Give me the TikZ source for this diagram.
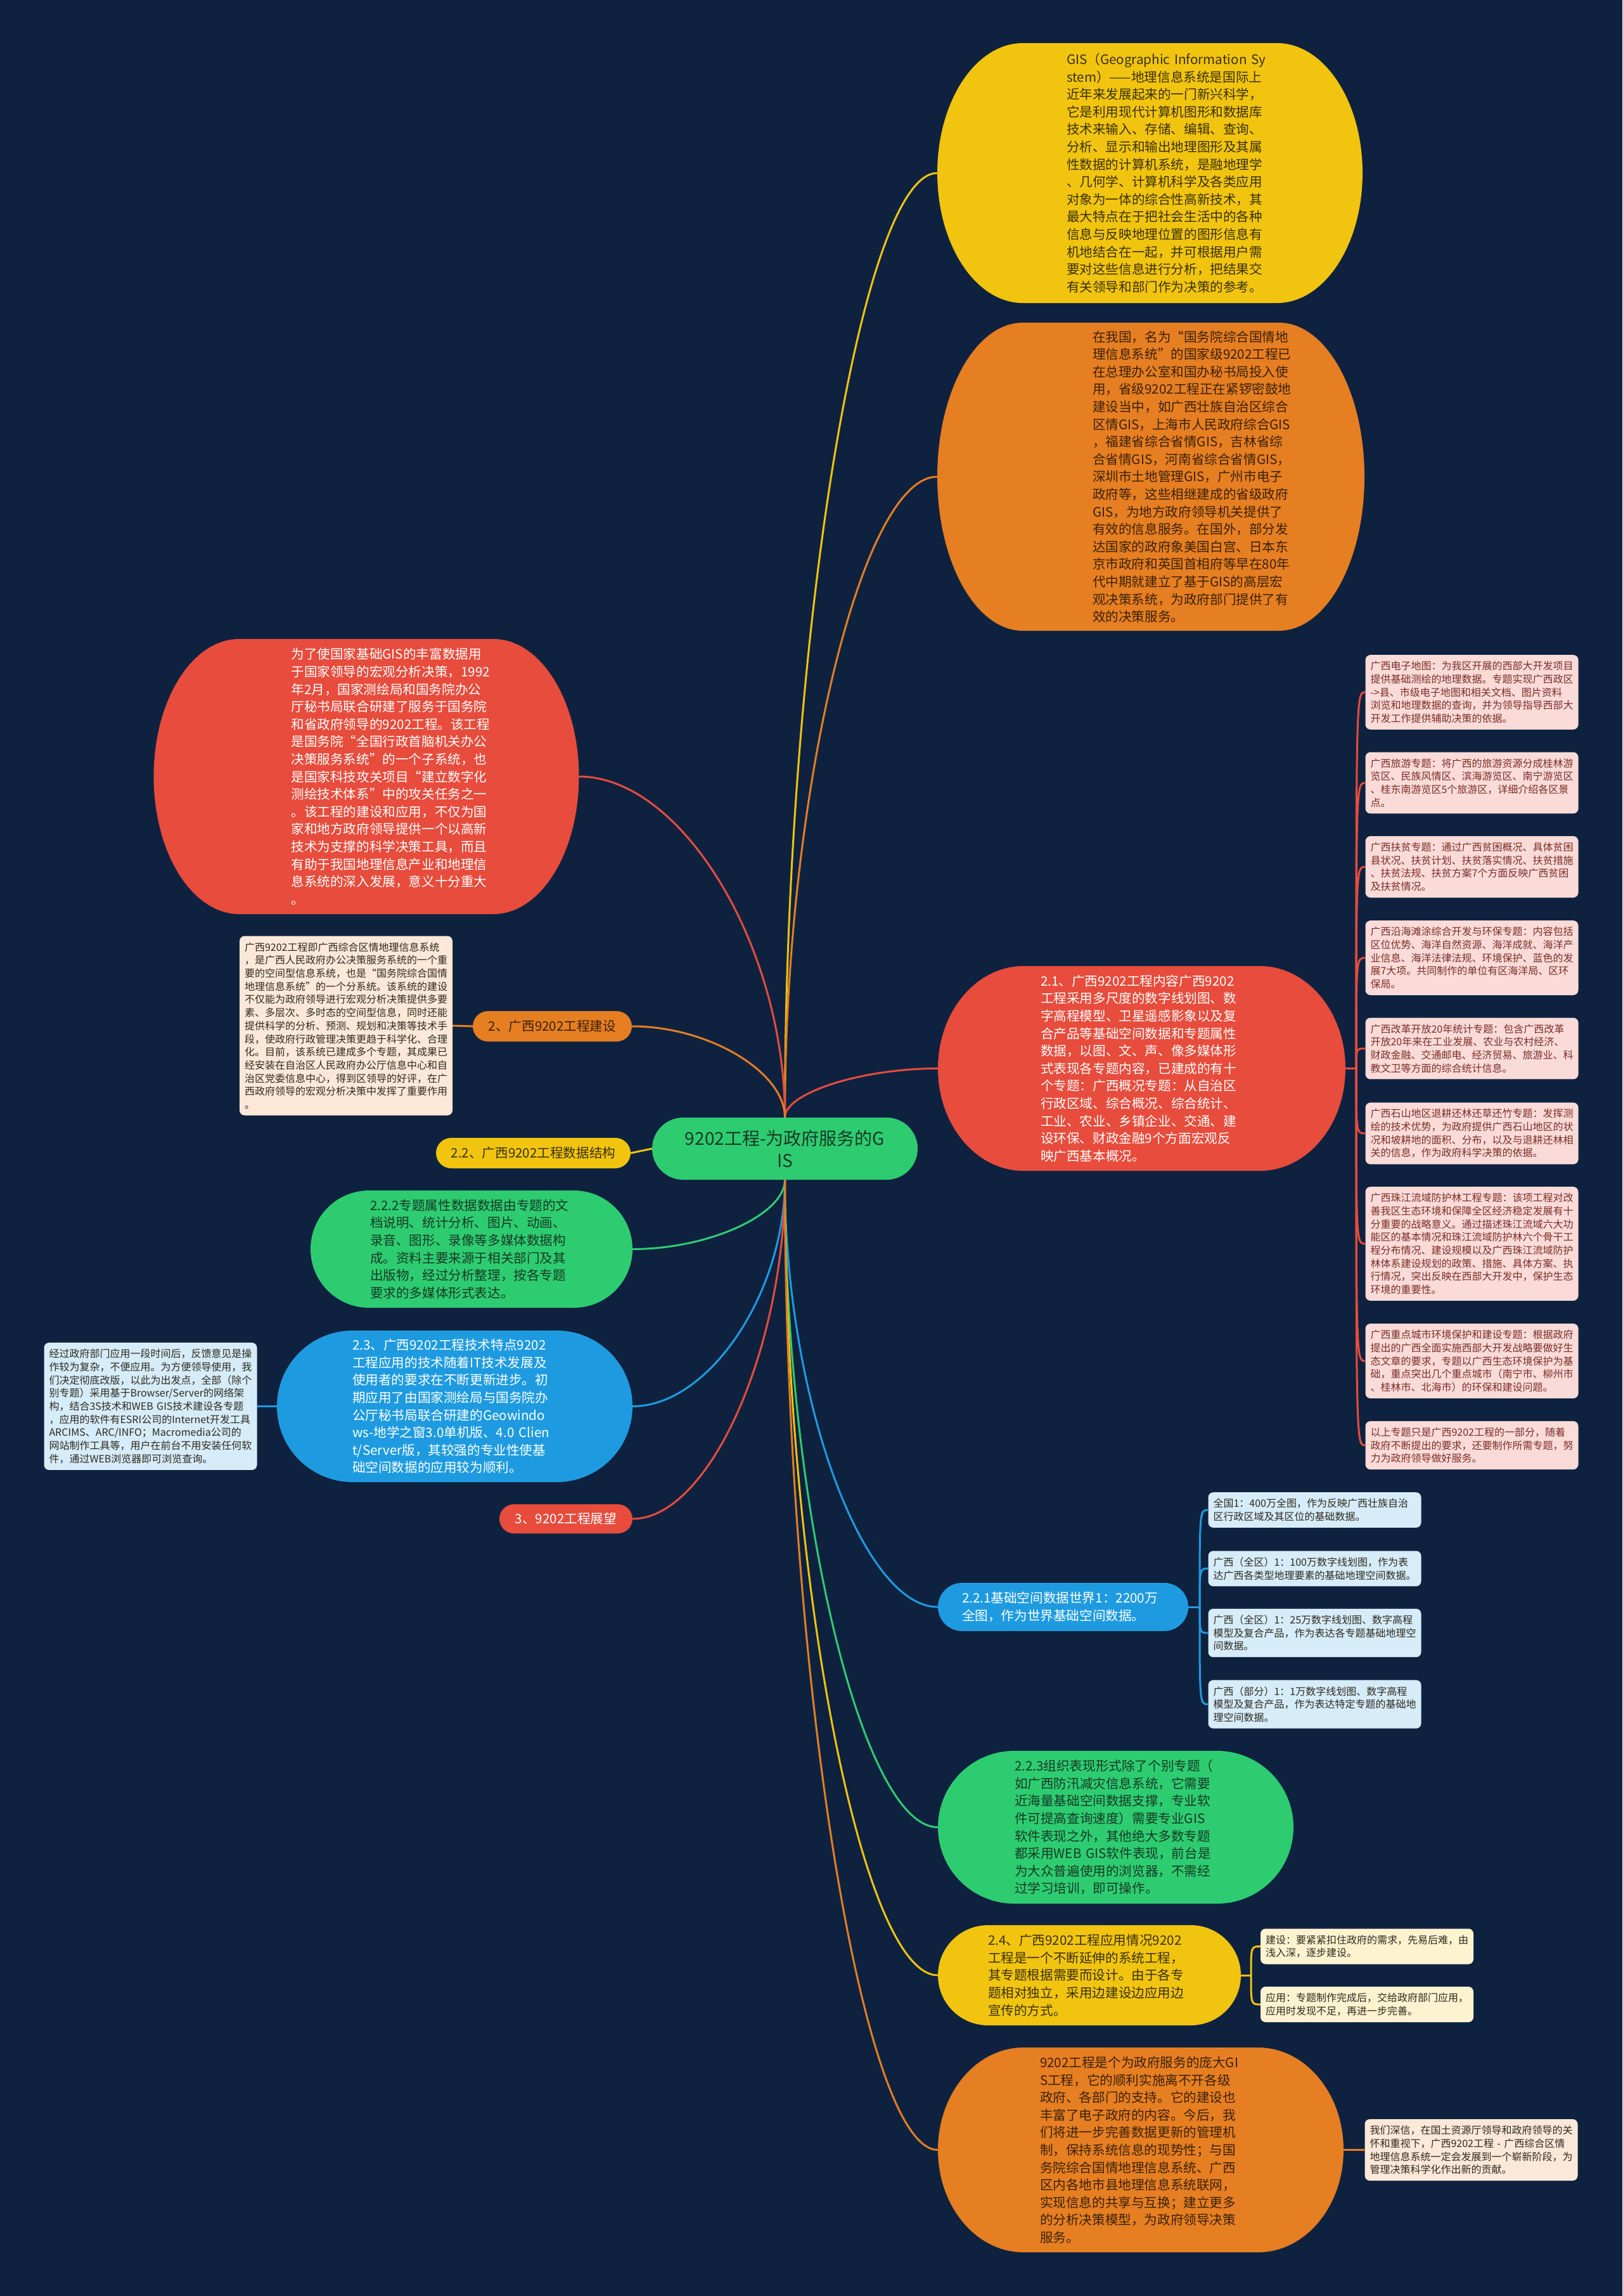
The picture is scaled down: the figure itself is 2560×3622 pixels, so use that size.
\documentclass[tikz,border=0pt]{standalone}
\usepackage{fontspec}
\setmainfont{Noto Sans CJK SC}
\usepackage{tikz}
\usetikzlibrary{calc}
\definecolor{bgnavy}{HTML}{0E2240}
\definecolor{mmyel}{HTML}{F1C40F}
\definecolor{mmora}{HTML}{E67E22}
\definecolor{mmred}{HTML}{E74C3C}
\definecolor{mmgrn}{HTML}{2ECC71}
\definecolor{mmblu}{HTML}{1E9BE0}
\definecolor{pkbox}{HTML}{FADBD8}
\definecolor{pcbox}{HTML}{FCE8D8}
\definecolor{lbbox}{HTML}{D6ECF9}
\definecolor{crbox}{HTML}{FDF3D0}
\definecolor{txdk}{HTML}{2E2A1E}
\definecolor{txyel}{HTML}{3A3100}
\definecolor{txora}{HTML}{3A2206}
\definecolor{txgrn}{HTML}{153A24}
\definecolor{txpk}{HTML}{7B2D26}
\newcommand\txtL{\fontsize{20.6}{27.6}\selectfont}
\newcommand\txtS{\fontsize{16}{20.7}\selectfont}
\newcommand\txtR{\fontsize{28}{35}\selectfont}

\begin{document}
\begin{tikzpicture}[x=1pt, y=-1pt,
  bub/.style={rectangle, inner sep=0pt, align=left, font=\txtL, text=txdk,
    path picture={\fill[#1] let \p1=(path picture bounding box.south west),
        \p2=(path picture bounding box.north east),
        \n1={min(135,(\y2-\y1)/2)}, \n2={(\y2-\y1)/2} in
        (\x1+\n1,\y2) -- (\x2-\n1,\y2)
        arc[start angle=90, end angle=-90, x radius=\n1, y radius=\n2]
        -- (\x1+\n1,\y1)
        arc[start angle=-90, end angle=-270, x radius=\n1, y radius=\n2] -- cycle;}},
  lsk/.style={execute at begin node={\leftskip=#1pt\relax}},
  sbox/.style={rectangle, rounded corners=8pt, fill=#1, inner xsep=8pt, inner ysep=10pt,
    text width=320pt, align=left, font=\txtS, text=txdk},
  ln/.style={line width=3pt, draw=#1},
  cv/.style={ln=#1, to path={.. controls ($(\tikztostart)!0.5!(\tikztostart |- \tikztotarget)$)
    and ($(\tikztostart |- \tikztotarget)!0.5!(\tikztotarget)$) .. (\tikztotarget)}},
  br/.style={ln=#1, to path={.. controls (\tikztostart |- \tikztotarget) .. (\tikztotarget)}}]
\useasboundingbox (0,0) rectangle (2560,3622);
\fill[bgnavy] (0,0) rectangle (2560,3622);

% centre
\node[bub=mmgrn, text=txgrn, align=center, font=\txtR, minimum width=419pt, minimum height=98pt] (root) at (1238.5,1812)
  {9202工程-为政府服务的G\\IS};

% right side, top
\node[bub=mmyel, text=txyel, lsk=204, text width=671pt, minimum height=410pt] (gis) at (1814.5,273)
  {GIS（Geographic Information Sy\\stem）——地理信息系统是国际上\\近年来发展起来的一门新兴科学，\\它是利用现代计算机图形和数据库\\技术来输入、存储、编辑、查询、\\分析、显示和输出地理图形及其属\\性数据的计算机系统，是融地理学\\、几何学、计算机科学及各类应用\\对象为一体的综合性高新技术，其\\最大特点在于把社会生活中的各种\\信息与反映地理位置的图形信息有\\机地结合在一起，并可根据用户需\\要对这些信息进行分析，把结果交\\有关领导和部门作为决策的参考。};
\node[bub=mmora, text=txora, lsk=245, text width=674pt, minimum height=486pt] (gov) at (1816,752)
  {在我国，名为“国务院综合国情地\\理信息系统”的国家级9202工程已\\在总理办公室和国办秘书局投入使\\用，省级9202工程正在紧锣密鼓地\\建设当中，如广西壮族自治区综合\\区情GIS，上海市人民政府综合GIS\\，福建省综合省情GIS，吉林省综\\合省情GIS，河南省综合省情GIS，\\深圳市土地管理GIS，广州市电子\\政府等，这些相继建成的省级政府\\GIS，为地方政府领导机关提供了\\有效的信息服务。在国外，部分发\\达国家的政府象美国白宫、日本东\\京市政府和英国首相府等早在80年\\代中期就建立了基于GIS的高层宏\\观决策系统，为政府部门提供了有\\效的决策服务。};
\node[bub=mmred, text=white, lsk=162, text width=643pt, minimum height=323pt] (n21) at (1801.5,1685.5)
  {2.1、广西9202工程内容广西9202\\工程采用多尺度的数字线划图、数\\字高程模型、卫星遥感影象以及复\\合产品等基础空间数据和专题属性\\数据，以图、文、声、像多媒体形\\式表现各专题内容，已建成的有十\\个专题：广西概况专题：从自治区\\行政区域、综合概况、综合统计、\\工业、农业、乡镇企业、交通、建\\设环保、财政金融9个方面宏观反\\映广西基本概况。};

% left side
\node[bub=mmred, text=white, lsk=217, text width=671pt, minimum height=434pt] (why) at (578,1225)
  {为了使国家基础GIS的丰富数据用\\于国家领导的宏观分析决策，1992\\年2月，国家测绘局和国务院办公\\厅秘书局联合研建了服务于国务院\\和省政府领导的9202工程。该工程\\是国务院“全国行政首脑机关办公\\决策服务系统”的一个子系统，也\\是国家科技攻关项目“建立数字化\\测绘技术体系”中的攻关任务之一\\。该工程的建设和应用，不仅为国\\家和地方政府领导提供一个以高新\\技术为支撑的科学决策工具，而且\\有助于我国地理信息产业和地理信\\息系统的深入发展，意义十分重大\\。};
\node[bub=mmora, text=txora, minimum width=251pt, minimum height=48pt] (p2) at (871.5,1619) {2、广西9202工程建设};
\node[sbox=pcbox] (gxsys) at (546,1618)
  {广西9202工程即广西综合区情地理信息系统\\，是广西人民政府办公决策服务系统的一个重\\要的空间型信息系统，也是“国务院综合国情\\地理信息系统”的一个分系统。该系统的建设\\不仅能为政府领导进行宏观分析决策提供多要\\素、多层次、多时态的空间型信息，同时还能\\提供科学的分析、预测、规划和决策等技术手\\段，使政府行政管理决策更趋于科学化、合理\\化。目前，该系统已建成多个专题，其成果已\\经安装在自治区人民政府办公厅信息中心和自\\治区党委信息中心，得到区领导的好评，在广\\西政府领导的宏观分析决策中发挥了重要作用\\。};
\node[bub=mmyel, text=txyel, minimum width=307pt, minimum height=48pt] (p22) at (841.5,1819) {2.2、广西9202工程数据结构};
\node[bub=mmgrn, text=txgrn, lsk=94, text width=508pt, minimum height=185pt] (n222) at (744,1970.5)
  {2.2.2专题属性数据数据由专题的文\\档说明、统计分析、图片、动画、\\录音、图形、录像等多媒体数据构\\成。资料主要来源于相关部门及其\\出版物，经过分析整理，按各专题\\要求的多媒体形式表达。};
\node[bub=mmblu, text=white, lsk=119, text width=561pt, minimum height=239pt] (n23) at (717.5,2218.5)
  {2.3、广西9202工程技术特点9202\\工程应用的技术随着IT技术发展及\\使用者的要求在不断更新进步。初\\期应用了由国家测绘局与国务院办\\公厅秘书局联合研建的Geowindo\\ws-地学之窗3.0单机版、4.0 Clien\\t/Server版，其较强的专业性使基\\础空间数据的应用较为顺利。};
\node[sbox=lbbox] (web) at (237.5,2218.5)
  {经过政府部门应用一段时间后，反馈意见是操\\作较为复杂，不便应用。为方便领导使用，我\\们决定彻底改版，以此为出发点，全部（除个\\别专题）采用基于Browser/Server的网络架\\构，结合3S技术和WEB GIS技术建设各专题\\，应用的软件有ESRI公司的Internet开发工具\\ARCIMS、ARC/INFO；Macromedia公司的\\网站制作工具等，用户在前台不用安装任何软\\件，通过WEB浏览器即可浏览查询。};
\node[bub=mmred, text=white, minimum width=210pt, minimum height=46pt] (p3) at (893,2396) {3、9202工程展望};

% right side, bottom
\node[bub=mmblu, text=white, lsk=38, text width=395pt, minimum height=76pt] (n221) at (1677.5,2535)
  {2.2.1基础空间数据世界1：2200万\\全图，作为世界基础空间数据。};
\node[bub=mmgrn, text=txgrn, lsk=121, text width=561pt, minimum height=241pt] (n223) at (1760.5,2882.5)
  {2.2.3组织表现形式除了个别专题（\\如广西防汛减灾信息系统，它需要\\近海量基础空间数据支撑，专业软\\件可提高查询速度）需要专业GIS\\软件表现之外，其他绝大多数专题\\都采用WEB GIS软件表现，前台是\\为大众普遍使用的浏览器，不需经\\过学习培训，即可操作。};
\node[bub=mmyel, text=txyel, lsk=79, text width=478pt, minimum height=158pt] (n24) at (1719,3116)
  {2.4、广西9202工程应用情况9202\\工程是一个不断延伸的系统工程，\\其专题根据需要而设计。由于各专\\题相对独立，采用边建设边应用边\\宣传的方式。};
\node[bub=mmora, text=txora, lsk=161, text width=640pt, minimum height=323pt] (fut) at (1800,3391.5)
  {9202工程是个为政府服务的庞大GI\\S工程，它的顺利实施离不开各级\\政府、各部门的支持。它的建设也\\丰富了电子政府的内容。今后，我\\们将进一步完善数据更新的管理机\\制，保持系统信息的现势性；与国\\务院综合国情地理信息系统、广西\\区内各地市县地理信息系统联网，\\实现信息的共享与互换；建立更多\\的分析决策模型，为政府领导决策\\服务。};

% topics of 2.1
\node[sbox=pkbox, text=txpk] (pa) at (2322.5,1092) {广西电子地图：为我区开展的西部大开发项目\\提供基础测绘的地理数据。专题实现广西政区\\->县、市级电子地图和相关文档、图片资料\\浏览和地理数据的查询，并为领导指导西部大\\开发工作提供辅助决策的依据。};
\node[sbox=pkbox, text=txpk] (pb) at (2322.5,1235) {广西旅游专题：将广西的旅游资源分成桂林游\\览区、民族风情区、滨海游览区、南宁游览区\\、桂东南游览区5个旅游区，详细介绍各区景\\点。};
\node[sbox=pkbox, text=txpk] (pc) at (2322.5,1367.5) {广西扶贫专题：通过广西贫困概况、具体贫困\\县状况、扶贫计划、扶贫落实情况、扶贫措施\\、扶贫法规、扶贫方案7个方面反映广西贫困\\及扶贫情况。};
\node[sbox=pkbox, text=txpk] (pd) at (2322.5,1511) {广西沿海滩涂综合开发与环保专题：内容包括\\区位优势、海洋自然资源、海洋成就、海洋产\\业信息、海洋法律法规、环境保护、蓝色的发\\展7大项。共同制作的单位有区海洋局、区环\\保局。};
\node[sbox=pkbox, text=txpk] (pe) at (2322.5,1654) {广西改革开放20年统计专题：包含广西改革\\开放20年来在工业发展、农业与农村经济、\\财政金融、交通邮电、经济贸易、旅游业、科\\教文卫等方面的综合统计信息。};
\node[sbox=pkbox, text=txpk] (pf) at (2322.5,1788) {广西石山地区退耕还林还草还竹专题：发挥测\\绘的技术优势，为政府提供广西石山地区的状\\况和坡耕地的面积、分布，以及与退耕还林相\\关的信息，作为政府科学决策的依据。};
\node[sbox=pkbox, text=txpk] (pg) at (2322.5,1962) {广西珠江流域防护林工程专题：该项工程对改\\善我区生态环境和保障全区经济稳定发展有十\\分重要的战略意义。通过描述珠江流域六大功\\能区的基本情况和珠江流域防护林六个骨干工\\程分布情况、建设规模以及广西珠江流域防护\\林体系建设规划的政策、措施、具体方案、执\\行情况，突出反映在西部大开发中，保护生态\\环境的重要性。};
\node[sbox=pkbox, text=txpk] (ph) at (2322.5,2147) {广西重点城市环境保护和建设专题：根据政府\\提出的广西全面实施西部大开发战略要做好生\\态文章的要求，专题以广西生态环境保护为基\\础，重点突出几个重点城市（南宁市、柳州市\\、桂林市、北海市）的环保和建设问题。};
\node[sbox=pkbox, text=txpk] (pi) at (2322.5,2280) {以上专题只是广西9202工程的一部分，随着\\政府不断提出的要求，还要制作所需专题，努\\力为政府领导做好服务。};

% maps of 2.2.1
\node[sbox=lbbox] (ma) at (2074.5,2382) {全国1：400万全图，作为反映广西壮族自治\\区行政区域及其区位的基础数据。};
\node[sbox=lbbox] (mb) at (2074.5,2474.5) {广西（全区）1：100万数字线划图，作为表\\达广西各类型地理要素的基础地理空间数据。};
\node[sbox=lbbox] (mc) at (2074.5,2576) {广西（全区）1：25万数字线划图、数字高程\\模型及复合产品，作为表达各专题基础地理空\\间数据。};
\node[sbox=lbbox] (md) at (2074.5,2688.5) {广西（部分）1：1万数字线划图、数字高程\\模型及复合产品，作为表达特定专题的基础地\\理空间数据。};

% 2.4 and outlook
\node[sbox=crbox] (ua) at (2157,3070.5) {建设：要紧紧扣住政府的需求，先易后难，由\\浅入深，逐步建设。};
\node[sbox=crbox] (ub) at (2157,3162) {应用：专题制作完成后，交给政府部门应用，\\应用时发现不足，再进一步完善。};
\node[sbox=pcbox] (wish) at (2321.5,3391.5) {我们深信，在国土资源厅领导和政府领导的关\\怀和重视下，广西9202工程 - 广西综合区情\\地理信息系统一定会发展到一个崭新阶段，为\\管理决策科学化作出新的贡献。};

\coordinate (j21) at (2140,1685.5);
\coordinate (j221) at (1893,2535);
\coordinate (j24) at (1974,3116);

% links from the centre
\draw[cv=mmyel] (root.north) to (gis.west);
\draw[cv=mmora] (root.north) to (gov.west);
\draw[cv=mmred] (root.north) to (n21.west);
\draw[cv=mmred] (root.north) to (why.east);
\draw[cv=mmora] (root.north) to (p2.east);
\draw[ln=mmyel] (root.west) -- (p22.east);
\draw[cv=mmgrn] (root.south) to (n222.east);
\draw[cv=mmblu] (root.south) to (n23.east);
\draw[cv=mmred] (root.south) to (p3.east);
\draw[cv=mmblu] (root.south) to (n221.west);
\draw[cv=mmgrn] (root.south) to (n223.west);
\draw[cv=mmyel] (root.south) to (n24.west);
\draw[cv=mmora] (root.south) to (fut.west);

% second level
\draw[ln=mmora] (p2.west) -- (gxsys.east);
\draw[ln=mmblu] (n23.west) -- (web.east);
\draw[ln=mmora] (fut.east) -- (wish.west);
\draw[ln=mmred] (n21.east) -- (j21);
\foreach \b in {pa,pb,pc,pd,pe,pf,pg,ph,pi} \draw[br=mmred] (j21) to (\b.west);
\draw[ln=mmblu] (n221.east) -- (j221);
\foreach \b in {ma,mb,mc,md} \draw[br=mmblu] (j221) to (\b.west);
\draw[ln=mmyel] (n24.east) -- (j24);
\foreach \b in {ua,ub} \draw[br=mmyel] (j24) to (\b.west);
\end{tikzpicture}
\end{document}
